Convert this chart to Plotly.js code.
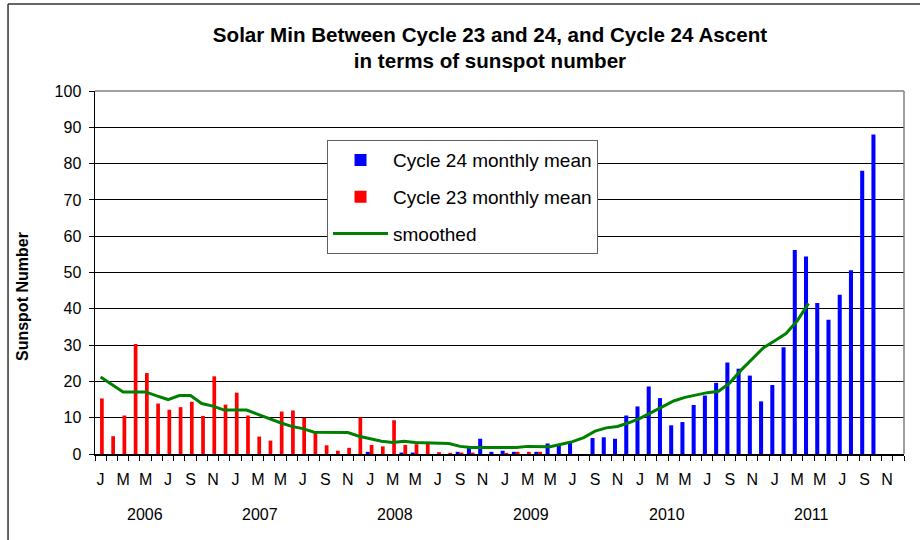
<!DOCTYPE html>
<html>
<head>
<meta charset="utf-8">
<script src="https://cdn.plot.ly/plotly-3.0.1.min.js"></script>
<style>
  html, body { margin: 0; padding: 0; background: #fff; }
  #chart { width: 920px; height: 540px; }
</style>
</head>
<body>
<div id="chart"></div>
<script>
// ---- data ----
const monthInitials = ['J','F','M','A','M','J','J','A','S','O','N','D'];
const years = ['2006','2007','2008','2009','2010','2011'];

// Cycle 23 monthly mean (Jan 2006 .. Dec 2011)
const cycle23 = [
  15.3, 4.9, 10.6, 30.3, 22.3, 13.9, 12.2, 12.9, 14.4, 10.5, 21.4, 13.6,
  16.9, 10.6, 4.8, 3.7, 11.7, 12.0, 10.0, 6.2, 2.4, 0.9, 1.7, 10.1,
  2.5, 2.1, 9.3, 2.5, 2.7, 3.1, 0.5, 0.3, 0.4, 0.4, null, null,
  0.3, 0.6, 0.6, 0.6, null, null, null, null, null, null, null, null,
  null, null, null, null, null, null, null, null, null, null, null, null,
  null, null, null, null, null, null, null, null, null, null, null, null
];

// Cycle 24 monthly mean (Jan 2006 .. Dec 2011)
const cycle24 = [
  null, null, null, null, null, null, null, null, null, null, null, null,
  null, null, null, null, null, null, null, null, null, null, null, null,
  0.6, null, null, 0.4, 0.4, null, null, null, 0.6, 2.2, 4.2, 0.6,
  0.9, 0.6, null, 0.6, 2.9, 2.5, 3.3, null, 4.4, 4.6, 4.2, 10.6,
  13.1, 18.6, 15.4, 7.9, 8.8, 13.5, 16.1, 19.6, 25.2, 23.5, 21.6, 14.5,
  19.0, 29.4, 56.2, 54.4, 41.6, 37.0, 43.9, 50.6, 78.0, 88.0, null, null
];

// 13-month smoothed (Jan 2006 .. Apr 2011)
const smoothed = [
  21.2, 19.1, 17.1, 17.1, 17.1, 16.0, 15.0, 16.1, 16.1, 13.9, 13.2, 12.1,
  12.1, 12.1, 10.9, 9.7, 8.6, 7.6, 7.0, 6.0, 6.0, 6.0, 5.9, 4.9,
  4.2, 3.5, 3.2, 3.5, 3.2, 3.1, 2.9, 2.9, 2.1, 1.8, 1.8, 1.8,
  1.8, 1.8, 2.1, 2.1, 2.0, 2.7, 3.4, 4.5, 6.3, 7.2, 7.6, 8.6,
  9.8, 11.4, 13.1, 14.6, 15.6, 16.3, 16.9, 17.3, 19.6, 23.1, 26.3, 29.3,
  31.2, 33.2, 36.7, 41.5
];

// ---- derived helpers ----
const nMonths = years.length * 12;
const idx = Array.from({length: nMonths}, (_, i) => i);
const labelVals = idx.filter(i => i % 2 === 0);
const labelText = labelVals.map(i => monthInitials[i % 12]);
const boundaries = Array.from({length: nMonths + 1}, (_, i) => i - 0.5);
const yearLabelX = [3.95, 14.2, 26.2, 38.3, 50.4, 63.3];

const FONT = '"Liberation Sans", Arial, sans-serif';

const traces = [
  {
    type: 'bar', name: 'Cycle 24 monthly mean', x: idx, y: cycle24,
    marker: {color: '#0000FF', line: {width: 0}},
    offset: -0.40, width: 0.36, legendgroup: 'a', hoverinfo: 'y'
  },
  {
    type: 'bar', name: 'Cycle 23 monthly mean', x: idx, y: cycle23,
    marker: {color: '#FF0000', line: {width: 0}},
    offset: -0.05, width: 0.33, legendgroup: 'b', hoverinfo: 'y'
  },
  {
    type: 'scatter', mode: 'lines', name: 'smoothed',
    x: idx.slice(0, smoothed.length), y: smoothed,
    line: {color: '#008000', width: 3}, legendgroup: 'c', hoverinfo: 'y'
  }
];

const annotations = years.map((yr, k) => ({
  text: yr, x: yearLabelX[k], xref: 'x', y: -0.166, yref: 'paper',
  showarrow: false, font: {family: FONT, size: 16, color: '#000'},
  xanchor: 'center', yanchor: 'middle'
}));
annotations.push({
  text: '<b>Sunspot Number</b>', textangle: -90,
  x: -0.0902, xref: 'paper', y: 0.4325, yref: 'paper',
  showarrow: false, font: {family: FONT, size: 16, color: '#000'},
  xanchor: 'center', yanchor: 'middle'
});

const layout = {
  width: 920, height: 540,
  margin: {l: 95, r: 16, t: 91, b: 86},
  paper_bgcolor: '#fff', plot_bgcolor: '#fff',
  font: {family: FONT, color: '#000'},
  title: {
    text: '<b>Solar Min Between Cycle 23 and 24, and Cycle 24 Ascent<br>in terms of sunspot number</b>',
    font: {family: FONT, size: 20.6, color: '#000'},
    x: 0.5326, xanchor: 'center', xref: 'container',
    y: 0.923, yanchor: 'middle', yref: 'container'
  },
  barmode: 'overlay',
  showlegend: true,
  legend: {
    x: 0.2868, y: 0.8644, xanchor: 'left', yanchor: 'top',
    bgcolor: '#fff', bordercolor: '#606060', borderwidth: 1,
    font: {family: FONT, size: 19, color: '#000'},
    traceorder: 'grouped', tracegroupgap: 9,
    itemwidth: 55
  },
  xaxis: {
    range: [-0.5, nMonths - 0.5], fixedrange: true,
    tickmode: 'array', tickvals: labelVals, ticktext: labelText,
    ticks: 'outside', ticklen: 10, tickcolor: 'rgba(0,0,0,0)',
    tickfont: {family: FONT, size: 16, color: '#000'},
    showgrid: false, zeroline: false,
    showline: true, linecolor: '#000', linewidth: 1.5,
    minor: {tickmode: 'array', tickvals: boundaries, ticks: 'outside', ticklen: 5, tickcolor: '#000', tickwidth: 1, showgrid: false}
  },
  yaxis: {
    range: [0, 100], dtick: 10, tick0: 0, fixedrange: true,
    ticks: 'outside', ticklen: 5, tickcolor: '#000', tickwidth: 1,
    tickfont: {family: FONT, size: 16, color: '#000'},
    showgrid: true, gridcolor: '#000', gridwidth: 1,
    zeroline: false, showline: true, linecolor: '#000', linewidth: 1.5,
    ticklabelstandoff: 4
  },
  shapes: [
    {type: 'line', xref: 'paper', yref: 'paper', x0: 0, x1: 1, y0: 1, y1: 1, line: {color: '#808080', width: 1.5}},
    {type: 'line', xref: 'paper', yref: 'paper', x0: 1, x1: 1, y0: 0, y1: 1, line: {color: '#808080', width: 1.5}},
    {type: 'line', xref: 'paper', yref: 'paper', x0: -0.1075, x1: 1.03, y0: 1.2397, y1: 1.2397, line: {color: '#333', width: 1.5}},
    {type: 'line', xref: 'paper', yref: 'paper', x0: -0.1075, x1: -0.1075, y0: 1.2397, y1: -0.25, line: {color: '#333', width: 1.5}}
  ],
  annotations: annotations
};

Plotly.newPlot('chart', traces, layout, {displayModeBar: false, staticPlot: true});
</script>
</body>
</html>
